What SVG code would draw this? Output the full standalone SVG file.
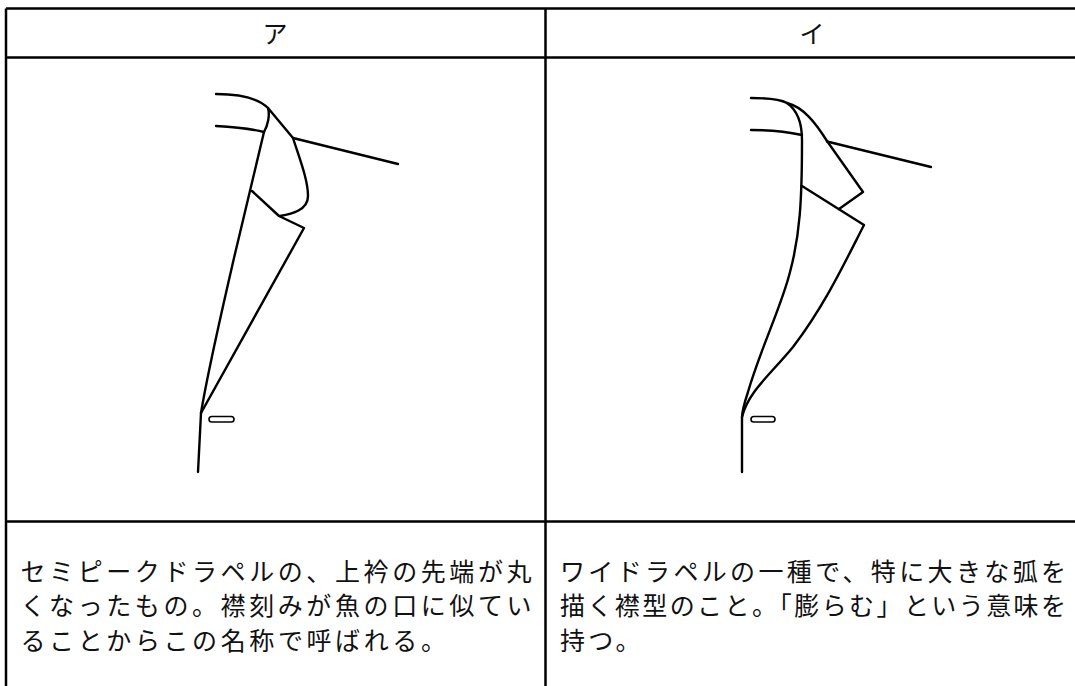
<svg xmlns="http://www.w3.org/2000/svg" width="1075" height="686" viewBox="0 0 1075 686">
<style>
.grid{stroke:#000;stroke-width:2.5;fill:none}
.ln{stroke:#000;stroke-width:2.4;fill:none;stroke-linecap:round;stroke-linejoin:round}
.bh{stroke:#000;stroke-width:1.6;fill:#fff}
.t{font-family:"Noto Sans CJK JP","Noto Sans CJK SC",sans-serif;font-size:25px;font-weight:400;fill:#111}
</style>
<rect width="1075" height="686" fill="#fff"/>
<g id="table">
<path class="grid" d="M6,8.5 H1075 M6,57.5 H1075 M6,521.5 H1075 M6,8.5 V686 M545.5,8.5 V686"/>
</g>
<g id="header-a"><text class="t" x="275" y="42.5" text-anchor="middle">ア</text></g>
<g id="header-i"><text class="t" x="812" y="42.5" text-anchor="middle">イ</text></g>
<g id="figure-a">
<path class="ln" d="M216,94 C238,94 257,97 268,108 L293,138 C300,160 308,180 308,196 C308,210 292,214 280,216"/>
<path class="ln" d="M293,138 L398,164"/>
<path class="ln" d="M216,126 C235,127 252,129 264,132"/>
<path class="ln" d="M268,108 C270,115 268,125 264,132 L234,258 C222,310 208,370 201,413 L198,472"/>
<path class="ln" d="M252,191 L279,216 L304,228 L201,413"/>
<rect class="bh" x="209" y="416.5" width="25" height="5.5" rx="2.75"/>
</g>
<g id="figure-i">
<path class="ln" d="M751,98 C768,98 780,99 787,103 C803,107 815,122 827,141 L863,192 L839,209"/>
<path class="ln" d="M827,141.5 L931,167"/>
<path class="ln" d="M751,130 C770,130 788,132 802,135"/>
<path class="ln" d="M787,103 C797,110 802,122 802,140 C802,200 800,235 790,272 C782,305 760,350 748,392 C744,404 742,412 742,418 L742,472"/>
<path class="ln" d="M802,186 L864,225 C845,262 825,305 793,347 C770,375 748,392 742,417"/>
<rect class="bh" x="751" y="416.5" width="24" height="5.5" rx="2.75"/>
</g>
<g id="desc-a">
<text class="t" x="20.5" y="580.5" textLength="511" lengthAdjust="spacing">セミピークドラペルの、上衿の先端が丸</text>
<text class="t" x="20.5" y="615" textLength="511" lengthAdjust="spacing">くなったもの。襟刻みが魚の口に似てい</text>
<text class="t" x="20.5" y="649.5" letter-spacing="3.6">ることからこの名称で呼ばれる。</text>
</g>
<g id="desc-i">
<text class="t" x="560" y="580.5" textLength="506" lengthAdjust="spacing">ワイドラペルの一種で、特に大きな弧を</text>
<text class="t" x="560" y="615" textLength="506" lengthAdjust="spacing">描く襟型のこと。「膨らむ」という意味を</text>
<text class="t" x="560" y="649.5" letter-spacing="3.3">持つ。</text>
</g>
</svg>
